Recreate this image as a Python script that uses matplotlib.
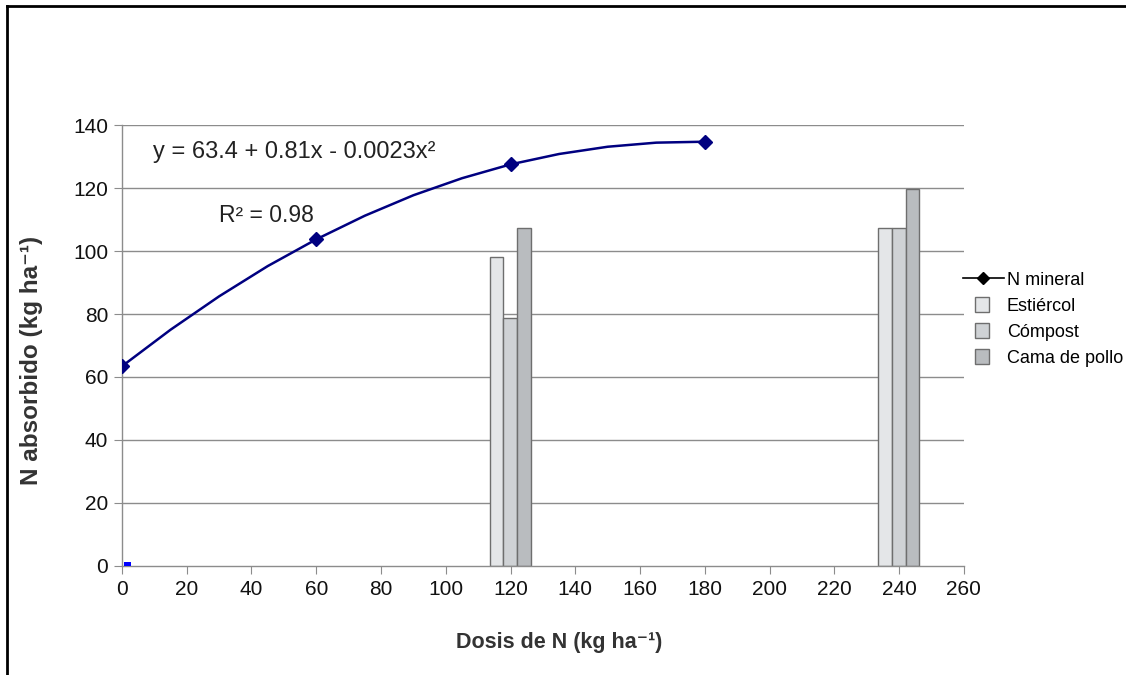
import matplotlib
matplotlib.use("Agg")
import matplotlib.pyplot as plt
from matplotlib.lines import Line2D
from matplotlib.patches import Patch, Rectangle
from matplotlib.legend_handler import HandlerPatch

plt.rcParams['font.family'] = ['Liberation Sans', 'DejaVu Sans']

# Data
doses = [0, 60, 120, 180]
n_mineral = [63.4, 103.7, 127.5, 134.7]
trend_x = [0, 15, 30, 45, 60, 75, 90, 105, 120, 135, 150, 165, 180]
trend_y = [63.4, 75.0, 85.6, 95.2, 103.7, 111.2, 117.7, 123.1, 127.5, 130.8, 133.1, 134.4, 134.7]
org_doses = [120, 240]
estiercol = [98, 107.3]
compost = [78.7, 107.3]
cama_pollo = [107.3, 119.7]
series_names = ["N mineral", "Estiércol", "Cómpost", "Cama de pollo"]
xticks = list(range(0, 261, 20))
yticks = list(range(0, 141, 20))

fig = plt.figure(figsize=(11.26, 6.75), dpi=100)
ax = fig.add_axes([0.1083, 0.1615, 0.856 - 0.1083, 0.8148 - 0.1615])

grid_c = '#8c8c8c'
for yv in yticks[1:]:
    ax.axhline(yv, color=grid_c, lw=1.0, zorder=0)

bw = 4.2
cols = ['#e4e6e8', '#cfd2d5', '#b9bcbf']
edge = '#6e6e6e'
for i, (vals, c) in enumerate(zip([estiercol, compost, cama_pollo], cols)):
    xs = [d + (i - 1) * bw - 0.1 for d in org_doses]
    ax.bar(xs, vals, width=bw, color=c, edgecolor=edge, linewidth=1.0, zorder=2)

# small blue mark near origin
ax.bar([1.7], [1.3], width=2.2, color='#0000ff', zorder=3)

navy = '#000080'
ax.plot(trend_x, trend_y, color=navy, lw=1.8, zorder=4)
ax.plot(doses, n_mineral, linestyle='none', marker='D', markersize=7.5,
        color=navy, zorder=5)

ax.text(9.5, 131.3, 'y = 63.4 + 0.81x - 0.0023x²', fontsize=17, color='#222222',
        va='center', ha='left')
ax.text(30, 111.4, 'R² = 0.98', fontsize=16.5, color='#222222', va='center', ha='left')

ax.set_xlim(0, 260)
ax.set_ylim(0, 140)
ax.set_xticks(xticks)
ax.set_yticks(yticks)
ax.tick_params(axis='both', direction='out', length=6, color=grid_c,
               labelsize=15, labelcolor='#111111', pad=4)
for s in ['top', 'right']:
    ax.spines[s].set_visible(False)
for s in ['left', 'bottom']:
    ax.spines[s].set_color(grid_c)
    ax.spines[s].set_linewidth(1.0)

ax.set_xlabel('Dosis de N (kg ha⁻¹)', fontsize=15.5, fontweight='bold',
              color='#333333')
ax.set_ylabel('N absorbido (kg ha⁻¹)', fontsize=17.5, fontweight='bold',
              color='#333333')
ax.xaxis.set_label_coords(0.519, -0.150)
ax.yaxis.set_label_coords(-0.0935, 0.467)


class SquareHandler(HandlerPatch):
    def create_artists(self, legend, orig_handle, xdescent, ydescent, width,
                       height, fontsize, trans):
        s = 0.8 * fontsize
        cx = -xdescent + width / 2 - 1
        cy = -ydescent + height / 2
        p = Rectangle((cx - s / 2, cy - s / 2), s, s,
                      facecolor=orig_handle.get_facecolor(),
                      edgecolor=orig_handle.get_edgecolor(), lw=1.0,
                      transform=trans)
        return [p]


handles = [Line2D([0], [0], color='black', marker='D', markersize=6, lw=1.2),
           Patch(facecolor=cols[0], edgecolor=edge),
           Patch(facecolor=cols[1], edgecolor=edge),
           Patch(facecolor=cols[2], edgecolor=edge)]
fig.legend(handles, series_names, loc='center left', bbox_to_anchor=(0.850, 0.527),
           frameon=False, fontsize=13, handlelength=2.3, handletextpad=0.15,
           labelspacing=0.5, borderaxespad=0, borderpad=0.3,
           handler_map={Patch: SquareHandler()})

# figure border (top and left)
fig.add_artist(Line2D([7 / 1126, 7 / 1126], [0, 1 - 6 / 675], color='black', lw=2,
                      transform=fig.transFigure))
fig.add_artist(Line2D([7 / 1126, 1], [1 - 6 / 675, 1 - 6 / 675], color='black', lw=2,
                      transform=fig.transFigure))

fig.savefig('out.png', dpi=100)
